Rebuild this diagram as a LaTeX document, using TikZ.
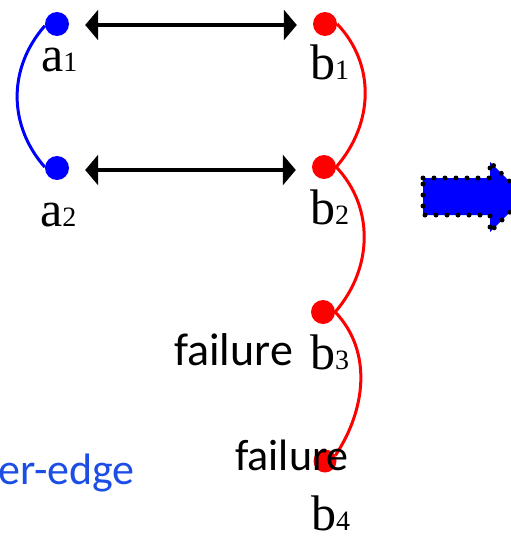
\documentclass[tikz,border=0pt]{standalone}
\usepackage{fontspec}
\setmainfont{Liberation Serif}
\newfontfamily\calfont{Carlito}
\usetikzlibrary{arrows.meta}
\definecolor{pblue}{RGB}{0,0,255}
\definecolor{pred}{RGB}{255,0,0}
\definecolor{tblue}{RGB}{28,78,230}
\newcommand{\lbl}[2]{{\fontsize{50}{50}\selectfont #1}{\fontsize{28}{28}\selectfont #2}}
\begin{document}
\begin{tikzpicture}[x=1pt,y=1pt,
  dotnode/.style={circle,inner sep=0pt,minimum size=24pt},
  lbltext/.style={inner sep=0pt,anchor=base west},
  sanstext/.style={inner sep=0pt,font=\calfont\fontsize{46}{46}\selectfont},
  pair/.style={{Triangle[length=13pt,width=30pt]}-{Triangle[length=13pt,width=30pt]},line width=4pt,shorten <=16pt,shorten >=16pt},
  dottedborder/.style={draw=black,line width=5pt,dash pattern=on 0pt off 11pt,line cap=round,line join=round}]
\clip (0,0) rectangle (511,-538);
% dots
\node[dotnode,fill=pblue] (a1) at (57,-24) {};
\node[dotnode,fill=pblue] (a2) at (57,-168) {};
\node[dotnode,fill=pred] (b1) at (325,-24) {};
\node[dotnode,fill=pred] (b2) at (324,-167) {};
\node[dotnode,fill=pred] (b3) at (323,-312) {};
\node[dotnode,fill=pred,minimum size=23pt] (b4) at (325,-461) {};
% labels
\node[lbltext] (la1) at (41,-71) {\lbl{a}{1}};
\node[lbltext] (la2) at (40,-226) {\lbl{a}{2}};
\node[lbltext] (lb1) at (310,-79) {\lbl{b}{1}};
\node[lbltext] (lb2) at (310,-224) {\lbl{b}{2}};
\node[lbltext] (lb3) at (310,-369) {\lbl{b}{3}};
\node[lbltext] (lb4) at (311,-530) {\lbl{b}{4}};
% arrows between pairs
\draw[pair] (a1.east |- 0,-25) coordinate (s1) -- (b1.west |- 0,-25) coordinate (t1);
\draw[pair] (a2.east |- 0,-170) coordinate (s2) -- (b2.west |- 0,-170) coordinate (t2);
% blue curve
\draw[pblue,line width=3pt] (a1.188) .. controls +(-37,-42) and +(-37,42) .. (a2.176);
% red curve
\draw[pred,line width=3pt] (b1.east) .. controls +(38,-40) and +(38,44) .. (b2.east)
  .. controls +(38,-40) and +(38,44) .. (b3.east)
  .. controls +(38,-40) and +(30,45) .. (b4.28);
% failure texts
\node[sanstext,anchor=base west] (f1) at (174,-365) {failure};
\node[sanstext,anchor=base west,font=\calfont\fontsize{44}{44}\selectfont] (f2) at (235,-470) {failure};
\node[sanstext,anchor=base east,text=tblue,font=\calfont\fontsize{44}{44}\selectfont] (ee) at (135,-484) {er-edge};
% big arrow
\path[fill=pblue,dottedborder] (423,-178) -- (490,-178) -- (490,-162) -- (525,-197) -- (490,-232) -- (490,-215) -- (423,-215) -- cycle;
\end{tikzpicture}
\end{document}
